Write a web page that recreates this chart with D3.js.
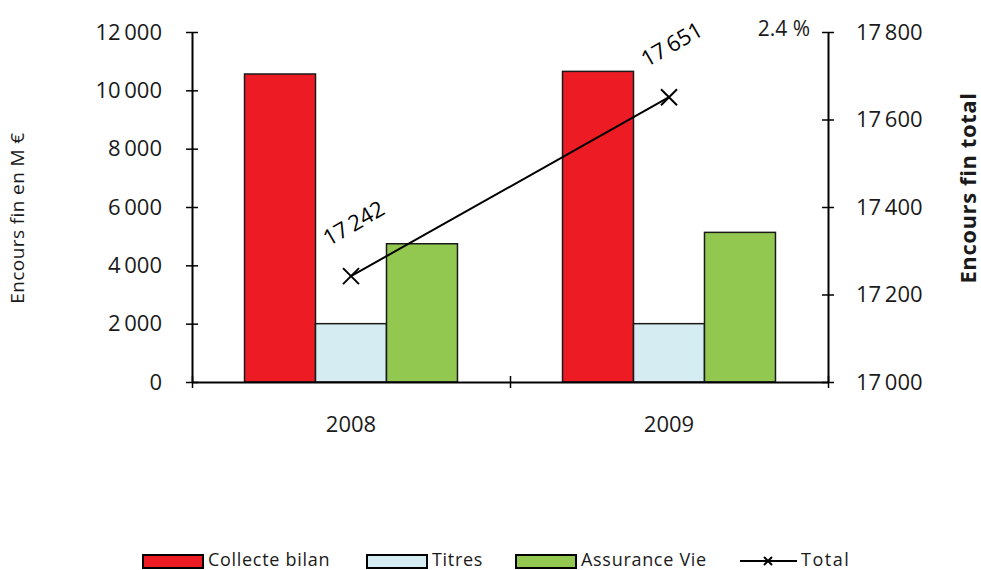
<!DOCTYPE html>
<html>
<head>
<meta charset="utf-8">
<script src="https://cdn.jsdelivr.net/npm/d3@7"></script>
<style>
  body { margin: 0; background: #fff; }
  svg { display: block; font-family: "Open Sans", sans-serif; }
</style>
</head>
<body>
<svg></svg>
<script>
// data
const years = ["2008", "2009"];
const series = ["Collecte bilan", "Titres", "Assurance Vie"];
const collecte = [10560, 10650];
const titres = [2000, 2000];
const assurance = [4740, 5130];
const total = [17242, 17651];
const leftTicks = [0, 2000, 4000, 6000, 8000, 10000, 12000];
const rightTicks = [17000, 17200, 17400, 17600, 17800];
const growthLabel = "2.4 %";
const colors = ["#ED1C24", "#D5ECF2", "#92C850"];

const values = [collecte, titres, assurance];

let svg = d3.select("svg").attr("width", 981).attr("height", 570);

const fr = d3.formatLocale({ decimal: ",", thousands: "\u2009", grouping: [3], currency: ["", " €"] });
const fmt = fr.format(",d");

// scales
let x = d3.scaleBand().domain(years).range([192, 828]).paddingInner(0).paddingOuter(0);
let xSub = d3.scaleBand().domain(series).range([0, x.bandwidth()]).paddingInner(0).paddingOuter(0.74);
let yL = d3.scaleLinear().domain([0, 12000]).range([382, 32]);
let yR = d3.scaleLinear().domain([17000, 17800]).range([382, 32]);

// bars
let groups = svg.append("g").attr("id", "bars")
  .selectAll("g")
  .data(series)
  .enter()
  .append("g")
  .attr("fill", (d, i) => colors[i]);

groups.selectAll("rect")
  .data((s, i) => years.map((yr, j) => ({ year: yr, serie: s, value: values[i][j] })))
  .enter()
  .append("rect")
  .attr("x", (d) => x(d.year) + xSub(d.serie))
  .attr("width", xSub.bandwidth())
  .attr("y", (d) => yL(d.value))
  .attr("height", (d) => yL(0) - yL(d.value))
  .attr("stroke", "#1a1a1a")
  .attr("stroke-width", 1.5);

// axes
const fixTicks = (g, horiz) => {
  g.select(".domain").attr("stroke", "#000").attr("stroke-width", 2);
  g.selectAll(".tick line").attr("stroke", "#000").attr("stroke-width", 1.5);
  if (horiz) g.selectAll(".tick line").attr("y1", -6).attr("y2", 6);
  else g.selectAll(".tick line").attr("x1", -6).attr("x2", 6);
  g.selectAll("text").attr("font-family", "Open Sans").attr("font-size", 22).attr("fill", "#1a1a1a");
};

let axL = svg.append("g")
  .attr("transform", "translate(192,0)")
  .call(d3.axisLeft(yL).tickValues(leftTicks).tickFormat(fmt).tickSizeOuter(0).tickPadding(24));
fixTicks(axL, false);

let axR = svg.append("g")
  .attr("transform", "translate(828,0)")
  .call(d3.axisRight(yR).tickValues(rightTicks).tickFormat(fmt).tickSizeOuter(0).tickPadding(22));
fixTicks(axR, false);

// bottom axis: ticks on band edges, labels at band centres
let bounds = years.map((d) => x(d)).concat([x.range()[1]]);
let xEdge = d3.scaleLinear().domain([192, 828]).range([192, 828]);
let axB = svg.append("g")
  .attr("transform", "translate(0,382)")
  .call(d3.axisBottom(xEdge).tickValues(bounds).tickFormat("").tickSizeOuter(0));
fixTicks(axB, true);

svg.append("g")
  .selectAll("text")
  .data(years)
  .enter()
  .append("text")
  .attr("x", (d) => x(d) + x.bandwidth() / 2)
  .attr("y", 432)
  .attr("text-anchor", "middle")
  .attr("font-size", 22)
  .attr("fill", "#1a1a1a")
  .text((d) => d);

// total line
let pts = years.map((d, i) => [x(d) + x.bandwidth() / 2, yR(total[i])]);
svg.append("path")
  .attr("d", d3.line()(pts))
  .attr("fill", "none")
  .attr("stroke", "#000")
  .attr("stroke-width", 2);

const cross = (g, cx, cy, r) => {
  g.append("path")
    .attr("d", `M${cx - r},${cy - r}L${cx + r},${cy + r}M${cx - r},${cy + r}L${cx + r},${cy - r}`)
    .attr("stroke", "#000")
    .attr("stroke-width", 2)
    .attr("fill", "none");
};
let marks = svg.append("g");
pts.forEach((p) => cross(marks, p[0], p[1], 8));

svg.append("g")
  .selectAll("text")
  .data(total)
  .enter()
  .append("text")
  .attr("transform", (d, i) => `translate(${pts[i][0] + 2},${pts[i][1] - 54}) rotate(-30)`)
  .attr("text-anchor", "middle")
  .attr("dominant-baseline", "central")
  .attr("font-size", 22)
  .attr("fill", "#000")
  .text((d) => fmt(d));

svg.append("text")
  .attr("x", 810)
  .attr("y", 36)
  .attr("text-anchor", "end")
  .attr("font-size", 21)
  .attr("fill", "#1a1a1a")
  .text(growthLabel);

// axis titles
svg.append("text")
  .attr("transform", "translate(24,218) rotate(-90)")
  .attr("text-anchor", "middle")
  .attr("font-size", 19)
  .attr("letter-spacing", 0.4)
  .attr("fill", "#1a1a1a")
  .text("Encours fin en M €");

svg.append("text")
  .attr("transform", "translate(976,188) rotate(-90)")
  .attr("text-anchor", "middle")
  .attr("font-size", 22)
  .attr("font-weight", "bold")
  .attr("letter-spacing", 0.6)
  .attr("fill", "#1a1a1a")
  .text("Encours fin total");

// legend
const legX = [143, 367, 516];
let leg = svg.append("g").attr("id", "legend");
series.forEach((s, i) => {
  leg.append("rect")
    .attr("x", legX[i]).attr("y", 555).attr("width", 60).attr("height", 13)
    .attr("fill", colors[i]).attr("stroke", "#000").attr("stroke-width", 2);
  leg.append("text")
    .attr("x", legX[i] + 65).attr("y", 566)
    .attr("font-size", 18).attr("letter-spacing", 0.7).attr("fill", "#1a1a1a")
    .text(s);
});
leg.append("line")
  .attr("x1", 740).attr("x2", 797).attr("y1", 561).attr("y2", 561)
  .attr("stroke", "#000").attr("stroke-width", 2);
cross(leg, 768, 561, 4);
leg.append("text")
  .attr("x", 801).attr("y", 566)
  .attr("font-size", 18).attr("letter-spacing", 1.5).attr("fill", "#1a1a1a")
  .text("Total");
</script>
</body>
</html>
